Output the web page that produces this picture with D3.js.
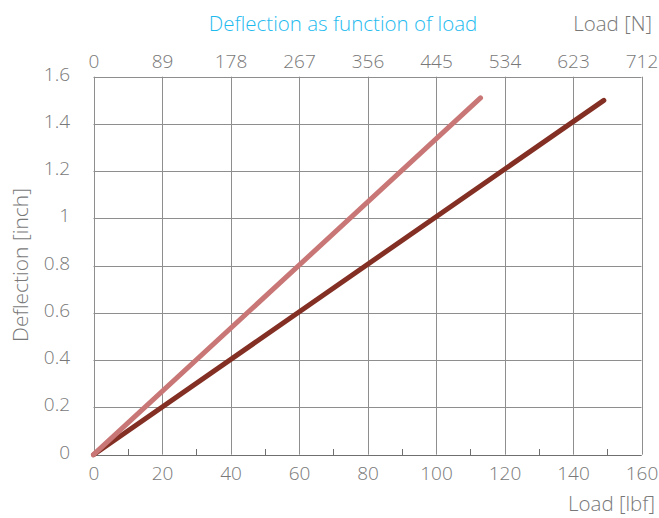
<!DOCTYPE html>
<html>
<head>
<meta charset="utf-8">
<script src="https://cdn.jsdelivr.net/npm/d3@7"></script>
<style>
  html, body { margin: 0; padding: 0; background: #fff; }
  svg text { font-family: "Open Sans", "Lato", sans-serif; font-weight: 300; }
</style>
</head>
<body>
<svg id="chart" width="659" height="518"></svg>
<script>
// ---- data ----
const loadLbfTicks = [0, 20, 40, 60, 80, 100, 120, 140, 160];
const loadNTickLabels = ["0", "89", "178", "267", "356", "445", "534", "623", "712"];
const deflectionTicks = [0, 0.2, 0.4, 0.6, 0.8, 1, 1.2, 1.4, 1.6];
const minorTicks = [10, 30, 50, 70, 90, 110, 130, 150];
const seriesLightLoad = [0, 113];
const seriesLightDefl = [0, 1.51];
const seriesDarkLoad = [0, 149];
const seriesDarkDefl = [0, 1.5];
const seriesColors = ["#c97676", "#842f24"];
const titleText = "Deflection as function of load";

// ---- layout ----
const svg = d3.select("#chart");
const mLeft = 93.5, mRight = 641.5, mTop = 76.7, mBottom = 454.7;
const x = d3.scaleLinear().domain([0, 160]).range([mLeft, mRight]);
const y = d3.scaleLinear().domain([0, 1.6]).range([mBottom, mTop]);

const gridColor = "#8e8e8e";
const textColor = "#787878";
const tickFont = 19;

// grid - vertical
svg.append("g").selectAll("line").data(loadLbfTicks).join("line")
  .attr("x1", d => Math.round(x(d)) + 0.5).attr("x2", d => Math.round(x(d)) + 0.5)
  .attr("y1", mTop).attr("y2", mBottom)
  .attr("stroke", gridColor).attr("stroke-width", 1);
// grid - horizontal
svg.append("g").selectAll("line").data(deflectionTicks).join("line")
  .attr("x1", mLeft).attr("x2", mRight)
  .attr("y1", d => Math.round(y(d)) + 0.5).attr("y2", d => Math.round(y(d)) + 0.5)
  .attr("stroke", gridColor).attr("stroke-width", 1);
// bottom axis line darker
svg.append("line")
  .attr("x1", mLeft).attr("x2", mRight)
  .attr("y1", Math.round(y(0)) + 0.5).attr("y2", Math.round(y(0)) + 0.5)
  .attr("stroke", "#6f6f6f").attr("stroke-width", 1.2);
// minor ticks
svg.append("g").selectAll("line").data(minorTicks).join("line")
  .attr("x1", d => Math.round(x(d)) + 0.5).attr("x2", d => Math.round(x(d)) + 0.5)
  .attr("y1", Math.round(y(0))).attr("y2", Math.round(y(0)) - 6)
  .attr("stroke", "#6f6f6f").attr("stroke-width", 1);

// axes labels (bottom)
const bottomAxis = d3.axisBottom(x).tickValues(loadLbfTicks).tickSize(0).tickPadding(0);
const gB = svg.append("g").attr("transform", `translate(0,480)`).call(bottomAxis);
gB.select(".domain").remove();
gB.selectAll("text").attr("fill", textColor).attr("font-size", tickFont).attr("dy", 0).attr("y", 0);

// top axis (N)
const xTop = d3.scaleLinear().domain([0, 160]).range([mLeft, mRight]);
const topAxis = d3.axisTop(xTop).tickValues(loadLbfTicks).tickSize(0).tickPadding(0)
  .tickFormat((d, i) => loadNTickLabels[i]);
const gT = svg.append("g").attr("transform", `translate(0,68)`).call(topAxis);
gT.select(".domain").remove();
gT.selectAll("text").attr("fill", textColor).attr("font-size", tickFont).attr("dy", 0).attr("y", 0);

// left axis
const leftAxis = d3.axisLeft(y).tickValues(deflectionTicks).tickSize(0).tickPadding(0)
  .tickFormat(d => d3.format("~g")(d));
const gL = svg.append("g").attr("transform", `translate(70,0)`).call(leftAxis);
gL.select(".domain").remove();
gL.selectAll("text").attr("fill", textColor).attr("font-size", tickFont).attr("dy", 0).attr("y", 3.5);

// series
const line = d3.line().x(d => x(d[0])).y(d => y(d[1]));
const lightPts = d3.zip(seriesLightLoad, seriesLightDefl);
const darkPts = d3.zip(seriesDarkLoad, seriesDarkDefl);
svg.append("path").datum(darkPts).attr("d", line)
  .attr("fill", "none").attr("stroke", seriesColors[1]).attr("stroke-width", 5)
  .attr("stroke-linecap", "round");
svg.append("path").datum(lightPts).attr("d", line)
  .attr("fill", "none").attr("stroke", seriesColors[0]).attr("stroke-width", 5)
  .attr("stroke-linecap", "round");

// titles
svg.append("text").attr("x", 343).attr("y", 31).attr("text-anchor", "middle")
  .attr("fill", "#1fbbef").attr("font-size", 20.5).text(titleText);
svg.append("text").attr("x", 652).attr("y", 31).attr("text-anchor", "end")
  .attr("fill", textColor).attr("font-size", 20.5).text("Load [N]");
svg.append("text").attr("x", 655).attr("y", 511).attr("text-anchor", "end")
  .attr("fill", textColor).attr("font-size", 20.5).text("Load [lbf]");
svg.append("text").attr("transform", "translate(28,265) rotate(-90)").attr("text-anchor", "middle")
  .attr("fill", textColor).attr("font-size", 21).text("Deflection [inch]");
</script>
</body>
</html>
